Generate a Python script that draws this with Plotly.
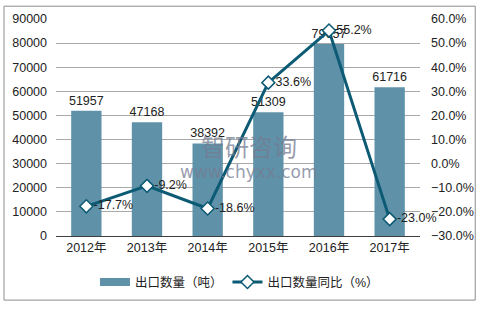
import plotly.graph_objects as go

years = ["2012年", "2013年", "2014年", "2015年", "2016年", "2017年"]
volume = [51957, 47168, 38392, 51309, 79657, 61716]
yoy = [-17.7, -9.2, -18.6, 33.6, 55.2, -23.0]
yoy_labels = ["-17.7%", "-9.2%", "-18.6%", "33.6%", "55.2%", "-23.0%"]

FONT = "Liberation Sans, Arial, Noto Sans CJK SC, sans-serif"
BAR = "#5f92a9"
LINE = "#0c5a74"
WM = "rgba(115,124,145,0.75)"

fig = go.Figure()
fig.add_trace(go.Bar(
    x=years, y=volume, name="出口数量（吨）", showlegend=False,
    marker=dict(color=BAR, line=dict(width=0)),
    text=[str(v) for v in volume], textposition="outside",
    constraintext="none",
    textfont=dict(size=12.5, color="#222222", family=FONT),
    cliponaxis=False, width=0.5,
))
# legend proxy for the bars (wide rectangle symbol)
fig.add_trace(go.Scatter(
    x=[None], y=[None], name="出口数量（吨）", mode="lines",
    line=dict(color=BAR, width=8), showlegend=True,
))
fig.add_trace(go.Scatter(
    x=years, y=yoy, name="出口数量同比（%）", yaxis="y2",
    mode="lines+markers+text",
    line=dict(color=LINE, width=3),
    marker=dict(symbol="diamond", size=10, color="white",
                line=dict(color=LINE, width=1.5)),
    text=yoy_labels, textposition="middle right",
    textfont=dict(size=12.5, color="#222222", family=FONT),
    cliponaxis=False,
))

# watermark
fig.add_annotation(x=0.53, y=0.415, xref="paper", yref="paper",
                   text="智研咨询", showarrow=False, yanchor="middle",
                   font=dict(size=24, color=WM, family="Noto Sans CJK SC"))
fig.add_annotation(x=0.53, y=0.30, xref="paper", yref="paper",
                   text="www.chyxx.com", showarrow=False, yanchor="middle",
                   yshift=-1,
                   font=dict(size=17, color=WM, family="DejaVu Sans"))

# outer border
fig.add_shape(type="rect", xref="paper", yref="paper",
              x0=-0.1429, x1=1.1517, y0=-0.2955, y1=1.059,
              line=dict(color="#8c8c8c", width=1), fillcolor="rgba(0,0,0,0)")

fig.update_layout(
    width=486, height=309,
    margin=dict(l=56, r=61, t=16, b=73),
    paper_bgcolor="white", plot_bgcolor="white",
    font=dict(family=FONT, size=12, color="#222222"),
    bargap=0.5,
    showlegend=True,
    legend=dict(orientation="h", x=0.504, y=-0.214, xanchor="center",
                yanchor="middle", font=dict(size=12.5, family=FONT),
                itemwidth=30, tracegroupgap=0),
    xaxis=dict(showline=True, linecolor="#404040", linewidth=1,
               ticks="", tickfont=dict(size=12.5), showgrid=False),
    yaxis=dict(range=[0, 90000], dtick=10000, showgrid=True,
               gridcolor="#a8a8a8", gridwidth=1, zeroline=False,
               tickfont=dict(size=12.5), ticklabelstandoff=8,
               tickformat="d", showline=False),
    yaxis2=dict(range=[-30, 60], dtick=10, overlaying="y", side="right",
                showgrid=False, zeroline=False, tickformat=".1f",
                ticksuffix="%", tickfont=dict(size=12.5),
                ticklabelstandoff=10, showline=False),
)

fig.write_html("out.html")
